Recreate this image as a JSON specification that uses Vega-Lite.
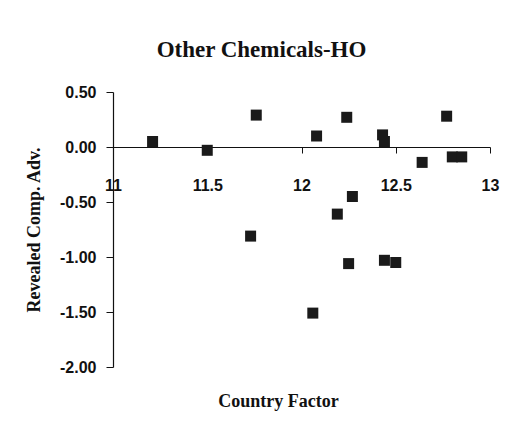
{
  "$schema": "https://vega.github.io/schema/vega-lite/v6.json",
  "autosize": "none",
  "width": 377,
  "height": 275,
  "padding": {"left": 113, "top": 92, "right": 40, "bottom": 68},
  "background": "white",
  "title": {
    "text": "Other Chemicals-HO",
    "font": "Liberation Serif",
    "fontSize": 23,
    "fontWeight": "bold",
    "color": "#111",
    "anchor": "middle",
    "dx": -40,
    "offset": 22
  },
  "config": {"view": {"stroke": null}},
  "data": {
    "values": [
      {"cf": 11.21, "rca": 0.05},
      {"cf": 11.50, "rca": -0.03},
      {"cf": 11.76, "rca": 0.29},
      {"cf": 12.08, "rca": 0.10},
      {"cf": 12.24, "rca": 0.27},
      {"cf": 12.43, "rca": 0.11},
      {"cf": 12.44, "rca": 0.05},
      {"cf": 12.64, "rca": -0.14},
      {"cf": 12.77, "rca": 0.28},
      {"cf": 12.80, "rca": -0.09},
      {"cf": 12.85, "rca": -0.09},
      {"cf": 12.27, "rca": -0.45},
      {"cf": 12.19, "rca": -0.61},
      {"cf": 11.73, "rca": -0.81},
      {"cf": 12.25, "rca": -1.06},
      {"cf": 12.44, "rca": -1.03},
      {"cf": 12.50, "rca": -1.05},
      {"cf": 12.06, "rca": -1.51}
    ]
  },
  "mark": {"type": "square", "size": 121, "color": "#1a1a1a", "opacity": 1},
  "encoding": {
    "x": {
      "field": "cf",
      "type": "quantitative",
      "scale": {"domain": [11, 13], "nice": false, "zero": false},
      "axis": {
        "offset": -220,
        "values": [11, 11.5, 12, 12.5, 13],
        "format": "~g",
        "grid": false,
        "domainColor": "#111",
        "domainWidth": 1.2,
        "tickColor": "#111",
        "tickSize": 6,
        "labelPadding": 24,
        "labelFont": "Liberation Sans",
        "labelFontSize": 16,
        "labelFontWeight": "bold",
        "labelColor": "#111",
        "labelFlush": false,
        "title": "Country Factor",
        "titleFont": "Liberation Serif",
        "titleFontSize": 18,
        "titleFontWeight": "bold",
        "titleColor": "#111",
        "titleY": 245,
        "titleX": 165
      }
    },
    "y": {
      "field": "rca",
      "type": "quantitative",
      "scale": {"domain": [-2, 0.5], "nice": false, "zero": false},
      "axis": {
        "values": [-2, -1.5, -1, -0.5, 0, 0.5],
        "labelExpr": "replace(format(datum.value, '.2f'), '\u2212', '-')",
        "grid": false,
        "domainColor": "#111",
        "domainWidth": 1.2,
        "tickColor": "#111",
        "tickSize": 7,
        "labelPadding": 10,
        "labelFont": "Liberation Sans",
        "labelFontSize": 16,
        "labelFontWeight": "bold",
        "labelColor": "#111",
        "title": "Revealed Comp. Adv.",
        "titleFont": "Liberation Serif",
        "titleFontSize": 18,
        "titleFontWeight": "bold",
        "titleColor": "#111",
        "titlePadding": 16
      }
    }
  }
}
